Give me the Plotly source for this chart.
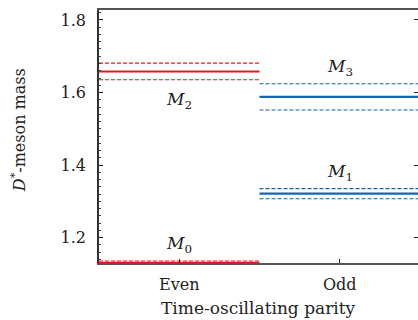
import plotly.graph_objects as go

# ---- data ----
parities = ["Even", "Odd"]
level_names = ["M0", "M1", "M2", "M3"]
level_parity = ["Even", "Odd", "Even", "Odd"]
level_mass = [1.1305, 1.321, 1.658, 1.588]
level_err = [0.005, 0.014, 0.023, 0.036]
label_side = ["above", "above", "below", "above"]
y_ticks = [1.2, 1.4, 1.6, 1.8]

RED = "#e31a1c"
BLUE = "#1864b0"
FONT = "DejaVu Serif"
TXT = "#222"

fig = go.Figure()
for name, par, m, e, side in zip(level_names, level_parity, level_mass, level_err, label_side):
    xi = parities.index(par)
    col = RED if par == "Even" else BLUE
    xs = [xi - 0.5, xi + 0.5]
    for val, dash, w in [(m + e, "4px,2px", 1.1), (m - e, "4px,2px", 1.1), (m, "solid", 2.2)]:
        fig.add_trace(go.Scatter(x=xs, y=[val, val], mode="lines",
                                 line=dict(color=col, width=w, dash=dash),
                                 showlegend=False, hoverinfo="skip"))
    idx = name[1:]
    if side == "above":
        fig.add_annotation(x=xi, y=m + e, text=f"<i>M</i><sub>{idx}</sub>", showarrow=False,
                           yanchor="bottom", yshift=3, font=dict(family=FONT, size=17, color=TXT))
    else:
        fig.add_annotation(x=xi, y=m - e, text=f"<i>M</i><sub>{idx}</sub>", showarrow=False,
                           yanchor="top", yshift=-7, font=dict(family=FONT, size=17, color=TXT))

fig.add_annotation(xref="paper", yref="paper", x=-0.25, y=0.526, xanchor="center", yanchor="middle",
                   text="<i>D</i><sup>*</sup>-meson mass", textangle=-90, showarrow=False,
                   font=dict(family=FONT, size=16, color=TXT))
fig.add_annotation(xref="paper", yref="paper", x=0.5, y=0, xanchor="center", yanchor="top", yshift=-33,
                   text="Time-oscillating parity", showarrow=False,
                   font=dict(family=FONT, size=17, color=TXT))

fig.update_xaxes(range=[-0.5, 1.4875], tickvals=list(range(len(parities))), ticktext=parities,
                 ticks="inside", ticklen=4, tickcolor=TXT, tickwidth=1,
                 showline=True, linecolor="rgba(20,20,20,0.72)", linewidth=2, mirror=True,
                 showgrid=False, zeroline=False, ticklabelstandoff=6, layer="above traces",
                 tickfont=dict(family=FONT, size=16, color=TXT))
fig.update_layout(
    yaxis=dict(range=[1.13, 1.8275], tickvals=y_ticks, ticktext=[f"{v:.1f}" for v in y_ticks],
               ticks="inside", ticklen=4, tickcolor=TXT, tickwidth=1,
               minor=dict(dtick=0.02, ticks="inside", ticklen=2, tickcolor="#444", showgrid=False),
               showline=True, linecolor="#333", linewidth=1.6, mirror=False,
               showgrid=False, zeroline=False, ticklabelstandoff=8, layer="above traces",
               tickfont=dict(family=FONT, size=16, color=TXT)),
    yaxis2=dict(range=[1.13, 1.8275], tickvals=y_ticks, overlaying="y", side="right",
                ticks="inside", ticklen=4, tickcolor=TXT, tickwidth=1, showticklabels=False,
                showline=False, showgrid=False, zeroline=False),
)
# invisible trace to activate the right-hand tick axis
fig.add_trace(go.Scatter(x=[None], y=[None], yaxis="y2", showlegend=False, hoverinfo="skip"))

fig.update_layout(width=418, height=320, margin=dict(l=99, r=0, t=10, b=57),
                  plot_bgcolor="white", paper_bgcolor="white")

fig.write_html("out.html", config={"displayModeBar": False},
               post_script="document.documentElement.style.overflow='hidden';"
                           "document.body.style.overflow='hidden';document.body.style.margin='0';")
